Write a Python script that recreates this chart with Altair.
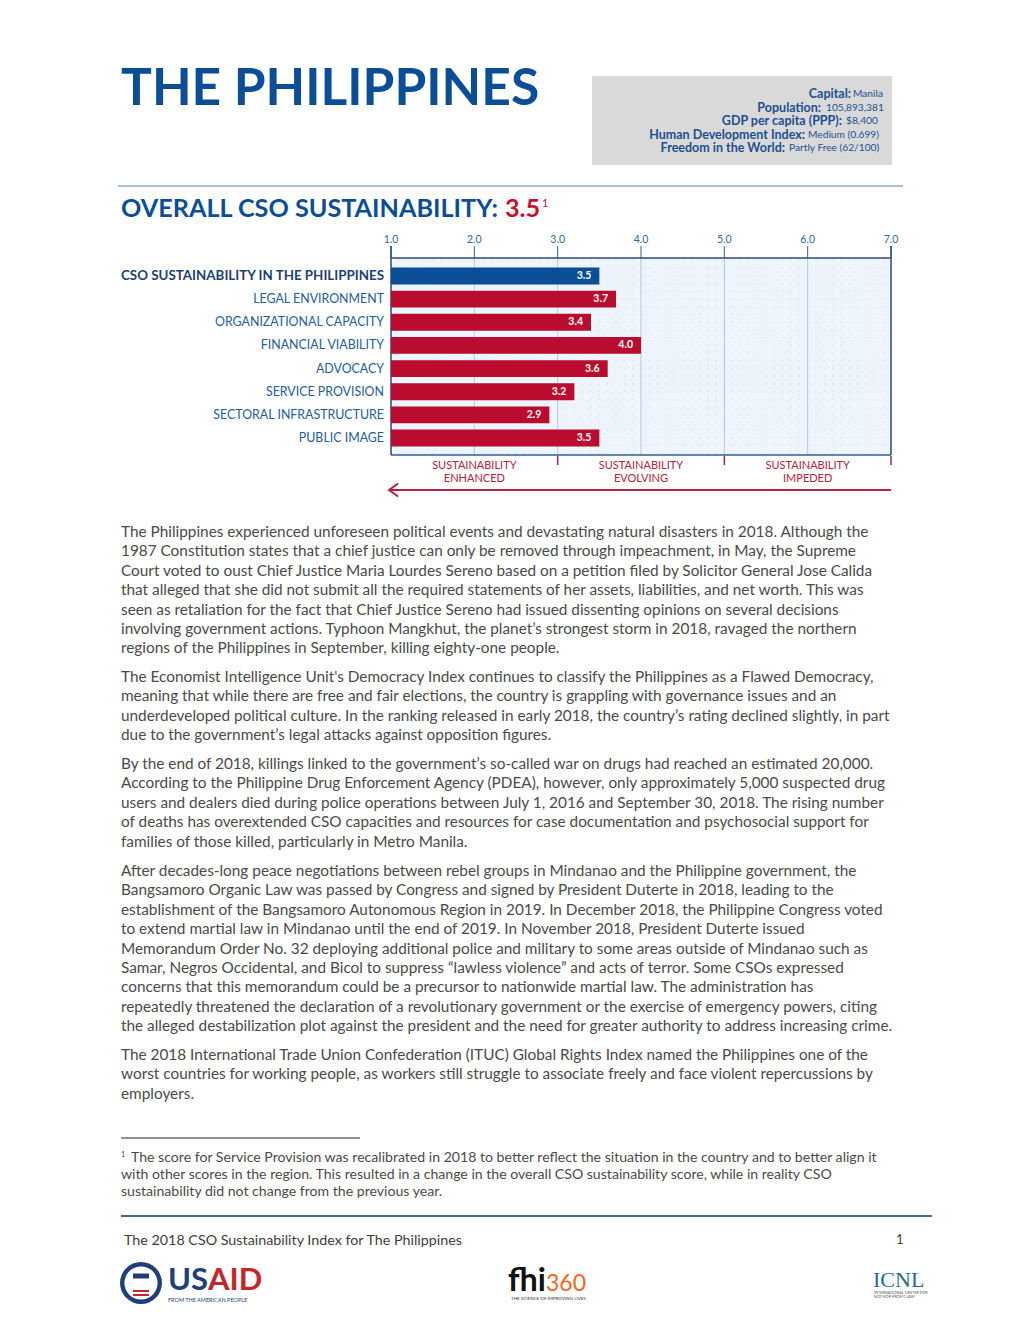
import altair as alt
import pandas as pd

W, H = 1000, 1298
OX, OY = 8, 8

FONT = "Lato"
BLUE = "#0b4d96"
RED = "#ba0c2f"
BODY = "#4a4a4a"

# ---------------- data ----------------
categories = [
    "CSO SUSTAINABILITY IN THE PHILIPPINES",
    "LEGAL ENVIRONMENT",
    "ORGANIZATIONAL CAPACITY",
    "FINANCIAL VIABILITY",
    "ADVOCACY",
    "SERVICE PROVISION",
    "SECTORAL INFRASTRUCTURE",
    "PUBLIC IMAGE",
]
scores = [3.5, 3.7, 3.4, 4.0, 3.6, 3.2, 2.9, 3.5]
tick_values = [1, 2, 3, 4, 5, 6, 7]
grid_values = [2, 3, 4, 5, 6]
zone_bounds = [3, 5, 7]
zone_centers = [2, 4, 6]
zone_labels = ["SUSTAINABILITY\nENHANCED", "SUSTAINABILITY\nEVOLVING", "SUSTAINABILITY\nIMPEDED"]

info_labels = ["Capital:", "Population:", "GDP per capita (PPP):", "Human Development Index:", "Freedom in the World:"]
info_values = ["Manila", "105,893,381", "$8,400", "Medium (0.699)", "Partly Free (62/100)"]

paragraphs = [
    [
        "The Philippines experienced unforeseen political events and devastating natural disasters in 2018. Although the",
        "1987 Constitution states that a chief justice can only be removed through impeachment, in May, the Supreme",
        "Court voted to oust Chief Justice Maria Lourdes Sereno based on a petition filed by Solicitor General Jose Calida",
        "that alleged that she did not submit all the required statements of her assets, liabilities, and net worth. This was",
        "seen as retaliation for the fact that Chief Justice Sereno had issued dissenting opinions on several decisions",
        "involving government actions. Typhoon Mangkhut, the planet\u2019s strongest storm in 2018, ravaged the northern",
        "regions of the Philippines in September, killing eighty-one people.",
    ],
    [
        "The Economist Intelligence Unit's Democracy Index continues to classify the Philippines as a Flawed Democracy,",
        "meaning that while there are free and fair elections, the country is grappling with governance issues and an",
        "underdeveloped political culture. In the ranking released in early 2018, the country\u2019s rating declined slightly, in part",
        "due to the government\u2019s legal attacks against opposition figures.",
    ],
    [
        "By the end of 2018, killings linked to the government\u2019s so-called war on drugs had reached an estimated 20,000.",
        "According to the Philippine Drug Enforcement Agency (PDEA), however, only approximately 5,000 suspected drug",
        "users and dealers died during police operations between July 1, 2016 and September 30, 2018. The rising number",
        "of deaths has overextended CSO capacities and resources for case documentation and psychosocial support for",
        "families of those killed, particularly in Metro Manila.",
    ],
    [
        "After decades-long peace negotiations between rebel groups in Mindanao and the Philippine government, the",
        "Bangsamoro Organic Law was passed by Congress and signed by President Duterte in 2018, leading to the",
        "establishment of the Bangsamoro Autonomous Region in 2019. In December 2018, the Philippine Congress voted",
        "to extend martial law in Mindanao until the end of 2019. In November 2018, President Duterte issued",
        "Memorandum Order No. 32 deploying additional police and military to some areas outside of Mindanao such as",
        "Samar, Negros Occidental, and Bicol to suppress \u201clawless violence\u201d and acts of terror. Some CSOs expressed",
        "concerns that this memorandum could be a precursor to nationwide martial law. The administration has",
        "repeatedly threatened the declaration of a revolutionary government or the exercise of emergency powers, citing",
        "the alleged destabilization plot against the president and the need for greater authority to address increasing crime.",
    ],
    [
        "The 2018 International Trade Union Confederation (ITUC) Global Rights Index named the Philippines one of the",
        "worst countries for working people, as workers still struggle to associate freely and face violent repercussions by",
        "employers.",
    ],
]
para_starts = [532, 677, 764, 871, 1055]

footnote_lines = [
    "The score for Service Provision was recalibrated in 2018 to better reflect the situation in the country and to better align it",
    "with other scores in the region. This resulted in a change in the overall CSO sustainability score, while in reality CSO",
    "sustainability did not change from the previous year.",
]

# ---------------- scales ----------------
px = alt.Scale(domain=[OX, W + OX], range=[0, W], nice=False, zero=False)
py = alt.Scale(domain=[OY, H + OY], range=[0, H], nice=False, zero=False)
xs = alt.Scale(domain=[1, 7], range=[391 - OX, 891 - OX], nice=False, zero=False)
ys = alt.Scale(domain=categories, range=[264.4 - OY, 449.6 - OY], paddingInner=0.27, paddingOuter=0.135)


def v(y):
    return alt.value(y - OY)


def texts(rows, weight="normal", align="left", baseline="middle", font=FONT, **kw):
    df = pd.DataFrame(rows, columns=["x", "y", "t", "size", "color"])
    return alt.Chart(df).mark_text(font=font, fontWeight=weight, align=align, baseline=baseline, **kw).encode(
        x=alt.X("x:Q", scale=px, axis=None),
        y=alt.Y("y:Q", scale=py, axis=None),
        text="t:N",
        size=alt.Size("size:Q", scale=None),
        color=alt.Color("color:N", scale=None),
    )


def rules(rows):
    df = pd.DataFrame(rows, columns=["x", "x2", "y", "y2", "color", "sw"])
    return alt.Chart(df).mark_rule().encode(
        x=alt.X("x:Q", scale=px, axis=None), x2="x2:Q",
        y=alt.Y("y:Q", scale=py, axis=None), y2="y2:Q",
        color=alt.Color("color:N", scale=None),
        strokeWidth=alt.StrokeWidth("sw:Q", scale=None),
    )


layers = []

# ---------------- page decorations ----------------
box = alt.Chart(pd.DataFrame({"x": [592], "x2": [892], "y": [76], "y2": [165]})).mark_rect(color="#d9d9d9").encode(
    x=alt.X("x:Q", scale=px, axis=None), x2="x2:Q", y=alt.Y("y:Q", scale=py, axis=None), y2="y2:Q")
layers.append(box)

layers.append(rules([
    [118, 903, 186, 186, "#8ea8d2", 1.5],
    [121, 360, 1138, 1138, "#222222", 1],
    [121, 932, 1216, 1216, "#4166aa", 2],
]))

# title
layers.append(texts([[121, 105, "THE PHILIPPINES", 51.5, BLUE]], weight="bold", baseline="alphabetic"))
layers.append(texts([[121, 217, "OVERALL CSO SUSTAINABILITY:", 25.2, BLUE]], weight="bold", baseline="alphabetic"))
layers.append(texts([[505, 217, "3.5", 25.2, "#c8102e"]], weight="bold", baseline="alphabetic"))
layers.append(texts([[542, 207, "1", 11, "#c8102e"]], weight="normal", baseline="alphabetic"))

# info box
label_right = [851, 821, 842, 805, 785]
value_left = [853, 826, 846, 808, 789]
info_y = [94, 107.5, 121, 134.5, 148]
layers.append(texts([[label_right[i], info_y[i], info_labels[i], 12.5, "#1c4f8f"] for i in range(5)], weight="bold", align="right"))
layers.append(texts([[value_left[i], info_y[i], info_values[i], 10.2, "#1c4f8f"] for i in range(5)], align="left"))

# ---------------- bar chart ----------------
one = pd.DataFrame({"a": [1], "b": [7]})
layers.append(alt.Chart(one).mark_rect(color="#eef4fb").encode(
    x=alt.X("a:Q", scale=xs, axis=None), x2="b:Q", y=v(258), y2=v(455)))

dots = pd.DataFrame({"g": [round(1 + 0.1 * i, 2) for i in range(1, 60)]})
layers.append(alt.Chart(dots).mark_rule(color="#c6d6ea", strokeDash=[1.2, 6.5], strokeWidth=1).encode(
    x=alt.X("g:Q", scale=xs, axis=None), y=v(260), y2=v(455)))

grid_df = pd.DataFrame({"g": grid_values})
layers.append(alt.Chart(grid_df).mark_rule(color="#b3c9e3", strokeWidth=1).encode(
    x=alt.X("g:Q", scale=xs, axis=None), y=v(258), y2=v(455)))

tick_df = pd.DataFrame({"t": tick_values})
layers.append(alt.Chart(tick_df).mark_rule(color="#3b5f8c", strokeWidth=1).encode(
    x=alt.X("t:Q", scale=xs, axis=None), y=v(246), y2=v(258)))
layers.append(alt.Chart(tick_df).mark_text(font=FONT, fontSize=10.5, color="#2f68a3", baseline="middle").encode(
    x=alt.X("t:Q", scale=xs, axis=None), y=v(240), text=alt.Text("t:Q", format=".1f")))

# borders
layers.append(alt.Chart(one).mark_rule(color="#2b4b75", strokeWidth=1.5).encode(
    x=alt.X("a:Q", scale=xs, axis=None), x2="b:Q", y=v(258)))
layers.append(alt.Chart(one).mark_rule(color="#2f5d99", strokeWidth=1.5).encode(
    x=alt.X("a:Q", scale=xs, axis=None), x2="b:Q", y=v(455)))
layers.append(alt.Chart(pd.DataFrame({"t": [1, 7]})).mark_rule(color="#2b4b75", strokeWidth=1.5).encode(
    x=alt.X("t:Q", scale=xs, axis=None), y=v(246), y2=v(455)))

bars_df = pd.DataFrame({"category": categories, "score": scores})
layers.append(alt.Chart(bars_df).transform_calculate(start="1").mark_bar().encode(
    x=alt.X("start:Q", scale=xs, axis=None), x2="score:Q",
    y=alt.Y("category:N", scale=ys, sort=categories, axis=None),
    color=alt.condition(alt.datum.category == categories[0], alt.value(BLUE), alt.value(RED)),
))
layers.append(alt.Chart(bars_df).mark_text(font=FONT, fontWeight="bold", fontSize=10.5, color="white",
                                           align="right", dx=-8, baseline="middle").encode(
    x=alt.X("score:Q", scale=xs, axis=None),
    y=alt.Y("category:N", scale=ys, sort=categories, axis=None),
    text=alt.Text("score:Q", format=".1f"),
))
layers.append(alt.Chart(bars_df).transform_filter(alt.datum.category == categories[0]).mark_text(
    font=FONT, fontWeight="bold", fontSize=13.35, color="#1d3f73", align="right", baseline="middle").encode(
    x=alt.value(384 - OX),
    y=alt.Y("category:N", scale=ys, sort=categories, axis=None),
    text="category:N",
))
layers.append(alt.Chart(bars_df).transform_filter(alt.datum.category != categories[0]).mark_text(
    font=FONT, fontSize=12.4, color="#245c9c", align="right", baseline="middle").encode(
    x=alt.value(384 - OX),
    y=alt.Y("category:N", scale=ys, sort=categories, axis=None),
    text="category:N",
))

# zones
ZRED = "#b3223e"
layers.append(alt.Chart(pd.DataFrame({"t": zone_bounds})).mark_rule(color=ZRED, strokeWidth=1.5).encode(
    x=alt.X("t:Q", scale=xs, axis=None), y=v(456), y2=v(465)))
zone_df = pd.DataFrame({"c": zone_centers, "label": zone_labels})
layers.append(alt.Chart(zone_df).mark_text(font=FONT, fontSize=11, color=ZRED, baseline="top",
                                           lineBreak="\n", lineHeight=12.5).encode(
    x=alt.X("c:Q", scale=xs, axis=None), y=v(460), text="label:N"))
layers.append(alt.Chart(one).mark_rule(color=ZRED, strokeWidth=2).encode(
    x=alt.X("a:Q", scale=xs, axis=None), x2="b:Q", y=v(490)))
layers.append(alt.Chart(pd.DataFrame({"a": [1]})).mark_point(
    shape="M1.1,-1L-0.3,0L1.1,1", filled=False, strokeWidth=2, size=169, color=ZRED, opacity=1).encode(
    x=alt.X("a:Q", scale=xs, axis=None), y=v(490)))

# ---------------- body text ----------------
body_rows = []
for start, lines in zip(para_starts, paragraphs):
    for i, line in enumerate(lines):
        body_rows.append([121, start + i * 19.4, line, 15.35, BODY])
layers.append(texts(body_rows))

# footnote
layers.append(texts([[121, 1155, "1", 7.5, BODY]]))
layers.append(texts([[131 if i == 0 else 121, 1158 + i * 17.2, line, 14.1, BODY] for i, line in enumerate(footnote_lines)]))

# footer
layers.append(texts([[124, 1241, "The 2018 CSO Sustainability Index for The Philippines", 14.3, "#3d3d3d"],
                     [896, 1240, "1", 13, "#3d3d3d"]]))

# logos
seal = pd.DataFrame({"x": [141, 141], "y": [1283, 1283], "s": [1764, 1100], "c": ["#1f3f7b", "#ffffff"]})
layers.append(alt.Chart(seal).mark_point(shape="circle", filled=True, opacity=1).encode(
    x=alt.X("x:Q", scale=px, axis=None), y=alt.Y("y:Q", scale=py, axis=None),
    size=alt.Size("s:Q", scale=None), color=alt.Color("c:N", scale=None)))
layers.append(rules([
    [133, 149, 1291, 1291, "#c1272d", 2],
    [133, 149, 1295, 1295, "#c1272d", 2],
    [133, 149, 1276, 1276, "#1f3f7b", 5],
]))
layers.append(texts([[168, 1290, "US", 31, "#1f3f7b"]], weight="bold", baseline="alphabetic"))
layers.append(texts([[208, 1290, "AID", 31, "#c1272d"]], weight="bold", baseline="alphabetic"))
layers.append(texts([[168, 1300, "FROM THE AMERICAN PEOPLE", 5.5, "#1f3f7b"]]))
layers.append(texts([[508, 1291, "fhi", 32, "#111111"]], weight="bold", baseline="alphabetic"))
layers.append(texts([[546, 1291, "360", 23, "#f26522"]], baseline="alphabetic"))
layers.append(texts([[511, 1299, "THE SCIENCE OF IMPROVING LIVES", 4.5, "#333333"]]))
layers.append(texts([[873, 1287, "ICNL", 22, "#1f6e8c"]], font="Liberation Serif", baseline="alphabetic"))
layers.append(texts([[874, 1293, "INTERNATIONAL CENTER FOR", 3.8, "#555555"],
                     [874, 1297, "NOT-FOR-PROFIT LAW", 3.8, "#555555"]]))

chart = alt.layer(*layers).resolve_scale(x="independent", y="independent").properties(
    width=W, height=H, autosize=alt.AutoSizeParams(type="none"), padding=0,
).configure_view(strokeWidth=0, stroke="transparent")

chart.save("out.html", embed_options={"renderer": "svg", "actions": False})
